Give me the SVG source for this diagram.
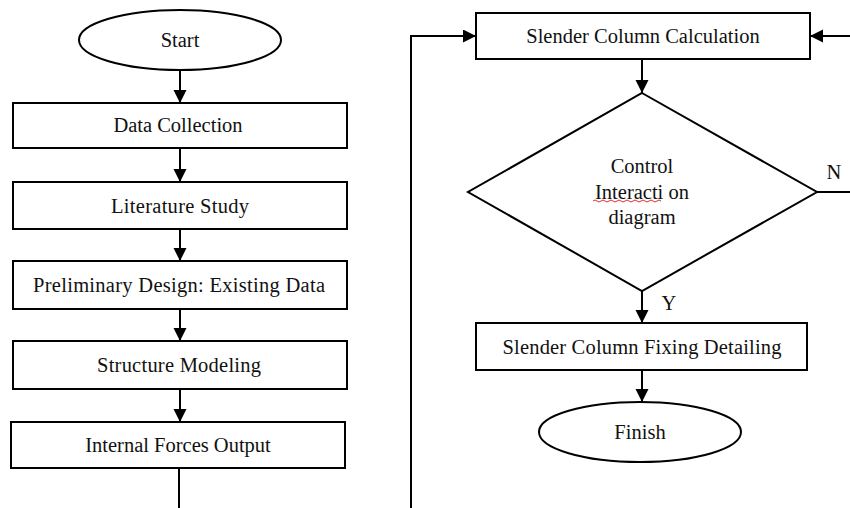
<svg xmlns="http://www.w3.org/2000/svg" width="850" height="508" viewBox="0 0 850 508">
<defs>
<style>
.box{fill:#fff;stroke:#000;stroke-width:2}
.ln{fill:none;stroke:#000;stroke-width:2}
.t{font-size:20.5px;fill:#111;text-anchor:middle;dominant-baseline:central}
</style>
<marker id="ah" markerUnits="userSpaceOnUse" markerWidth="14" markerHeight="14" refX="13" refY="6.5" orient="auto">
<path d="M0,0 L13,6.5 L0,13 z" fill="#000"/>
</marker>
</defs>
<rect width="850" height="508" fill="#fff"/>
<g font-family="Liberation Serif">
<g id="connectors">
<line class="ln" x1="180" y1="70" x2="180" y2="103" marker-end="url(#ah)"/>
<line class="ln" x1="180" y1="148" x2="180" y2="182" marker-end="url(#ah)"/>
<line class="ln" x1="180" y1="229" x2="180" y2="261" marker-end="url(#ah)"/>
<line class="ln" x1="180" y1="309" x2="180" y2="341" marker-end="url(#ah)"/>
<line class="ln" x1="180" y1="389" x2="180" y2="422" marker-end="url(#ah)"/>
<line class="ln" x1="179" y1="468" x2="179" y2="508"/>
<polyline class="ln" points="411,508 411,36 476,36" marker-end="url(#ah)"/>
<line class="ln" x1="850" y1="36" x2="810" y2="36" marker-end="url(#ah)"/>
<line class="ln" x1="642" y1="59" x2="642" y2="93" marker-end="url(#ah)"/>
<line class="ln" x1="817" y1="192" x2="850" y2="192"/>
<line class="ln" x1="642" y1="291" x2="642" y2="323" marker-end="url(#ah)"/>
<line class="ln" x1="642" y1="370" x2="642" y2="402" marker-end="url(#ah)"/>
<text class="t" font-family="Liberation Serif" x="834" y="172">N</text>
<text class="t" font-family="Liberation Serif" x="669" y="303">Y</text>
</g>
<g id="start">
<ellipse class="box" cx="180" cy="40" rx="101" ry="30"/>
<text class="t" font-family="Liberation Serif" x="180" y="40">Start</text>
</g>
<g id="data-collection">
<rect class="box" x="13" y="103" width="334" height="45"/>
<text class="t" font-family="Liberation Serif" x="178" y="125">Data Collection</text>
</g>
<g id="literature-study">
<rect class="box" x="13" y="182" width="334" height="47"/>
<text class="t" font-family="Liberation Serif" x="180" y="206" textLength="138" lengthAdjust="spacing">Literature Study</text>
</g>
<g id="preliminary-design">
<rect class="box" x="13" y="261" width="334" height="48"/>
<text class="t" font-family="Liberation Serif" x="179" y="285" textLength="292" lengthAdjust="spacing">Preliminary Design: Existing Data</text>
</g>
<g id="structure-modeling">
<rect class="box" x="13" y="341" width="334" height="48"/>
<text class="t" font-family="Liberation Serif" x="179" y="365" textLength="164" lengthAdjust="spacing">Structure Modeling</text>
</g>
<g id="internal-forces">
<rect class="box" x="11" y="422" width="334" height="46"/>
<text class="t" font-family="Liberation Serif" x="178" y="445">Internal Forces Output</text>
</g>
<g id="slender-calc">
<rect class="box" x="476" y="13" width="334" height="46"/>
<text class="t" font-family="Liberation Serif" x="643" y="36">Slender Column Calculation</text>
</g>
<g id="control">
<polygon class="box" points="642,93 817,192 642,291 468,192"/>
<text class="t" font-family="Liberation Serif" x="642" y="166">Control</text>
<text class="t" font-family="Liberation Serif" x="642" y="192">Interacti on</text>
<text class="t" font-family="Liberation Serif" x="642" y="217">diagram</text>
<path d="M593,201 q2,-2 4,0 t4,0 t4,0 t4,0 t4,0 t4,0 t4,0 t4,0 t4,0 t4,0 t4,0 t4,0 t4,0 t4,0 t4,0 t4,0 t4,0" fill="none" stroke="#e03030" stroke-width="1"/>
</g>
<g id="fixing-detailing">
<rect class="box" x="476" y="323" width="331" height="47"/>
<text class="t" font-family="Liberation Serif" x="642" y="347" textLength="279" lengthAdjust="spacing">Slender Column Fixing Detailing</text>
</g>
<g id="finish">
<ellipse class="box" cx="640" cy="432" rx="101" ry="30"/>
<text class="t" font-family="Liberation Serif" x="640" y="432">Finish</text>
</g>
</g>
</svg>
